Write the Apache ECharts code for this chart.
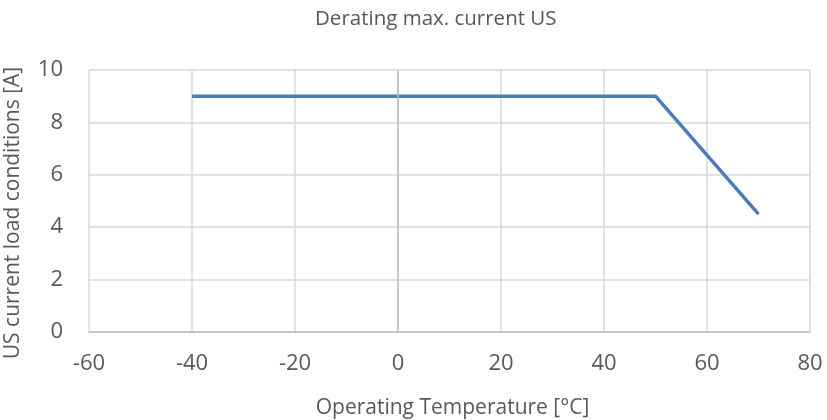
<!DOCTYPE html>
<html>
<head>
<meta charset="utf-8">
<script src="https://cdn.jsdelivr.net/npm/echarts@6/dist/echarts.min.js"></script>
<style>
  html, body { margin: 0; padding: 0; background: #fff; }
  #chart { width: 827px; height: 420px; }
</style>
</head>
<body>
<div id="chart"></div>
<script>
const temps = [-40, 50, 70];
const currents = [9, 9, 4.5];

const chart = echarts.init(document.getElementById('chart'));
const font = '"Open Sans", "Noto Sans", sans-serif';

const option = {
  animation: false,
  title: {
    text: 'Derating max. current US',
    left: 310,
    top: 4,
    textStyle: { fontFamily: font, fontSize: 20.5, fontWeight: 'normal', color: '#595959' }
  },
  grid: { left: 89, right: 17, top: 70, bottom: 88, containLabel: false, outerBoundsMode: 'none' },
  xAxis: {
    type: 'value',
    min: -60,
    max: 80,
    interval: 20,
    name: 'Operating Temperature [°C]',
    nameLocation: 'middle',
    nameGap: 66,
    nameTextStyle: { fontFamily: font, fontSize: 21, color: '#595959', padding: [0, 0, 0, 6] },
    axisLine: { show: true, onZero: false, lineStyle: { color: '#bfbfbf', width: 1.5 } },
    axisTick: { show: false },
    axisLabel: { fontFamily: font, fontSize: 22, color: '#595959', margin: 21 },
    splitLine: { show: true, lineStyle: { color: '#d9d9d9', width: 1.5 } }
  },
  yAxis: {
    type: 'value',
    min: 0,
    max: 10,
    interval: 2,
    name: 'US current load conditions [A]',
    nameLocation: 'middle',
    nameGap: 65,
    nameTextStyle: { fontFamily: font, fontSize: 21, color: '#595959', padding: [0, 24, 0, 0] },
    axisLine: { show: false },
    axisTick: { show: false },
    axisLabel: { fontFamily: font, fontSize: 22, color: '#595959', margin: 26 },
    splitLine: { show: true, lineStyle: { color: '#d9d9d9', width: 1.5 } }
  },
  series: [{
    type: 'line',
    data: temps.map((t, i) => [t, currents[i]]),
    showSymbol: false,
    lineStyle: { color: '#4a7ebb', width: 3.5 },
    markLine: {
      silent: true,
      symbol: 'none',
      label: { show: false },
      lineStyle: { color: '#bfbfbf', width: 1.5, type: 'solid' },
      data: [{ xAxis: 0 }]
    },
    z: 3
  }]
};
chart.setOption(option);
</script>
</body>
</html>
